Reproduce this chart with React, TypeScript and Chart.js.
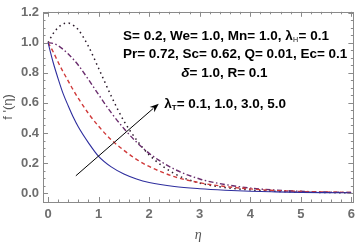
import React, { useEffect, useRef } from "react";
import { Chart, registerables } from "chart.js";

Chart.register(...registerables);

// ---- data ----
const etaValues = [0, 0.1, 0.2, 0.3, 0.4, 0.5, 0.6, 0.8, 1.0, 1.25, 1.5, 1.75, 2.0, 2.5, 3.0, 3.5, 4.0, 4.5, 5.0, 5.5, 6.0];
const fpLambda01 = [1, 0.87, 0.76, 0.66, 0.58, 0.505, 0.44, 0.335, 0.245, 0.175, 0.128, 0.095, 0.072, 0.045, 0.03, 0.02, 0.013, 0.009, 0.006, 0.004, 0.003];
const fpLambda10 = [1, 0.94, 0.87, 0.805, 0.745, 0.685, 0.63, 0.53, 0.445, 0.355, 0.285, 0.225, 0.178, 0.11, 0.07, 0.045, 0.029, 0.018, 0.012, 0.008, 0.005];
const fpLambda30 = [1, 0.995, 0.98, 0.955, 0.925, 0.89, 0.85, 0.755, 0.655, 0.535, 0.43, 0.34, 0.265, 0.16, 0.095, 0.058, 0.035, 0.021, 0.013, 0.008, 0.005];
const fpLambda50 = [1, 1.06, 1.1, 1.125, 1.13, 1.115, 1.085, 0.975, 0.83, 0.645, 0.48, 0.355, 0.255, 0.13, 0.068, 0.038, 0.022, 0.013, 0.008, 0.005, 0.003];
const xTickValues = [0, 1, 2, 3, 4, 5, 6];
const yTickValues = [0, 0.2, 0.4, 0.6, 0.8, 1.0, 1.2];
const xMinorStep = 0.2;
const yMinorStep = 0.05;

type Part = { t: string; sub?: boolean; italic?: boolean; color?: string };

const paramLines: { parts: Part[]; eta: number; val: number }[] = [
  { parts: [{ t: "S= 0.2, We= 1.0, Mn= 1.0, λ" }, { t: "H", sub: true, color: "#777" }, { t: "= 0.1" }], eta: 3.52, val: 1.045 },
  { parts: [{ t: "Pr= 0.72, Sc= 0.62, Q= 0.01, Ec= 0.1" }], eta: 3.7, val: 0.923 },
  { parts: [{ t: "δ", italic: true }, { t: "= 1.0, R= 0.1" }], eta: 3.49, val: 0.794 },
];
const lambdaLabel: Part[] = [{ t: "λ" }, { t: "T", sub: true }, { t: "= 0.1, 1.0, 3.0, 5.0" }];
const arrowTail = { x: 0.55, y: 0.116 };
const arrowTip = { x: 2.19, y: 0.595 };
const lambdaLabelAt = { x: 2.3, y: 0.59 };

const FONT = "Liberation Sans, Arial, sans-serif";

function partFont(p: Part, size: number) {
  const s = p.sub ? Math.round(size * 0.6) : size;
  return `${p.italic ? "italic " : ""}bold ${s}px ${FONT}`;
}

function drawRich(ctx: CanvasRenderingContext2D, parts: Part[], x: number, y: number, align: "center" | "left", size: number) {
  ctx.save();
  ctx.textBaseline = "middle";
  ctx.textAlign = "left";
  let total = 0;
  const widths = parts.map((p) => {
    ctx.font = partFont(p, size);
    const w = ctx.measureText(p.t).width;
    total += w;
    return w;
  });
  let cx = align === "center" ? x - total / 2 : x;
  parts.forEach((p, i) => {
    ctx.font = partFont(p, size);
    ctx.fillStyle = p.color || "#000";
    ctx.fillText(p.t, cx, p.sub ? y + 3.5 : y);
    cx += widths[i];
  });
  ctx.restore();
}

const framePlugin = {
  id: "frameAndNotes",
  afterDatasetsDraw(chart: any) {
    const { ctx, chartArea: a, scales } = chart;
    const xs = scales.x;
    const ys = scales.y;
    ctx.save();
    ctx.strokeStyle = "#8a8a8a";
    ctx.lineWidth = 1;
    ctx.strokeRect(Math.round(a.left) + 0.5, Math.round(a.top) + 0.5, Math.round(a.right - a.left), Math.round(a.bottom - a.top));
    ctx.beginPath();
    const major = 5;
    const minor = 2.5;
    for (let v = 0; v <= 6.0001; v += xMinorStep) {
      const isMajor = xTickValues.some((t) => Math.abs(t - v) < 1e-6);
      const len = isMajor ? major : minor;
      const px = Math.round(xs.getPixelForValue(v)) + 0.5;
      ctx.moveTo(px, a.bottom);
      ctx.lineTo(px, a.bottom - len);
      ctx.moveTo(px, a.top);
      ctx.lineTo(px, a.top + len);
    }
    for (let v = 0; v <= 1.2001; v += yMinorStep) {
      const isMajor = yTickValues.some((t) => Math.abs(t - v) < 1e-6);
      const len = isMajor ? major : minor;
      const py = Math.round(ys.getPixelForValue(v)) + 0.5;
      ctx.moveTo(a.left, py);
      ctx.lineTo(a.left + len, py);
      ctx.moveTo(a.right, py);
      ctx.lineTo(a.right - len, py);
    }
    ctx.stroke();
    ctx.restore();
  },
  afterDraw(chart: any) {
    const { ctx, scales } = chart;
    const xs = scales.x;
    const ys = scales.y;
    paramLines.forEach((l) => {
      drawRich(ctx, l.parts, xs.getPixelForValue(l.eta), ys.getPixelForValue(l.val), "center", 13.5);
    });
    const x1 = xs.getPixelForValue(arrowTail.x);
    const y1 = ys.getPixelForValue(arrowTail.y);
    const x2 = xs.getPixelForValue(arrowTip.x);
    const y2 = ys.getPixelForValue(arrowTip.y);
    const ang = Math.atan2(y2 - y1, x2 - x1);
    const hl = 9;
    const hw = 3.5;
    ctx.save();
    ctx.strokeStyle = "#000";
    ctx.fillStyle = "#000";
    ctx.lineWidth = 1;
    ctx.beginPath();
    ctx.moveTo(x1, y1);
    ctx.lineTo(x2 - Math.cos(ang) * hl * 0.8, y2 - Math.sin(ang) * hl * 0.8);
    ctx.stroke();
    ctx.beginPath();
    ctx.moveTo(x2, y2);
    const bx = x2 - Math.cos(ang) * hl;
    const by = y2 - Math.sin(ang) * hl;
    ctx.lineTo(bx + Math.sin(ang) * hw, by - Math.cos(ang) * hw);
    ctx.lineTo(x2 - Math.cos(ang) * hl * 0.7, y2 - Math.sin(ang) * hl * 0.7);
    ctx.lineTo(bx - Math.sin(ang) * hw, by + Math.cos(ang) * hw);
    ctx.closePath();
    ctx.fill();
    ctx.restore();
    drawRich(ctx, lambdaLabel, xs.getPixelForValue(lambdaLabelAt.x), ys.getPixelForValue(lambdaLabelAt.y), "left", 13.5);
  },
};

function pts(ys: number[]) {
  return etaValues.map((x, i) => ({ x, y: ys[i] }));
}

export default function App() {
  const ref = useRef<HTMLCanvasElement | null>(null);
  useEffect(() => {
    if (!ref.current) return;
    const tickFont = { family: FONT, size: 13, weight: "bold" as const };
    const chart = new Chart(ref.current, {
      type: "line",
      data: {
        datasets: [
          { data: pts(fpLambda01), borderColor: "#2e2e9e", borderWidth: 1.1, pointRadius: 0, cubicInterpolationMode: "monotone" },
          { data: pts(fpLambda10), borderColor: "#d03a3a", borderWidth: 1.4, borderDash: [4, 3], pointRadius: 0, cubicInterpolationMode: "monotone" },
          { data: pts(fpLambda30), borderColor: "#6a2d6e", borderWidth: 1.4, borderDash: [5, 2.5, 1.5, 2.5], pointRadius: 0, cubicInterpolationMode: "monotone" },
          { data: pts(fpLambda50), borderColor: "#2a1a2a", borderWidth: 1.5, borderDash: [1.5, 3.5], pointRadius: 0, cubicInterpolationMode: "monotone" },
        ],
      },
      options: {
        responsive: false,
        animation: false,
        layout: { padding: { left: 0, top: 7, right: 6, bottom: 0 } },
        plugins: { legend: { display: false }, tooltip: { enabled: false } },
        scales: {
          x: {
            type: "linear",
            min: -0.1,
            max: 6.04,
            grid: { display: false, drawTicks: false },
            border: { display: false },
            afterBuildTicks: (s: any) => {
              s.ticks = xTickValues.map((v) => ({ value: v }));
            },
            afterFit: (s: any) => {
              s.height = 42;
            },
            ticks: { color: "#6e6e6e", font: tickFont, padding: 5, maxRotation: 0, callback: (v: any) => String(v) },
            title: { display: true, text: "η", color: "#555", font: { family: "Liberation Serif, serif", size: 14, style: "italic" }, padding: { top: 0, bottom: 0 } },
          },
          y: {
            type: "linear",
            min: -0.058,
            max: 1.205,
            grid: { display: false, drawTicks: false },
            border: { display: false },
            afterBuildTicks: (s: any) => {
              s.ticks = yTickValues.map((v) => ({ value: v }));
            },
            afterFit: (s: any) => {
              s.width = 43;
            },
            ticks: { color: "#6e6e6e", font: tickFont, padding: 4, callback: (v: any) => Number(v).toFixed(1) },
            title: { display: true, text: "f '(η)", color: "#555", font: { family: FONT, size: 13 }, padding: { top: 1, bottom: 0 } },
          },
        },
      },
      plugins: [framePlugin],
    } as any);
    return () => chart.destroy();
  }, []);
  return (
    <div style={{ position: "absolute", left: 0, top: 0, width: 360, height: 244, background: "#fff" }}>
      <canvas ref={ref} width={360} height={244} style={{ display: "block" }} />
    </div>
  );
}
